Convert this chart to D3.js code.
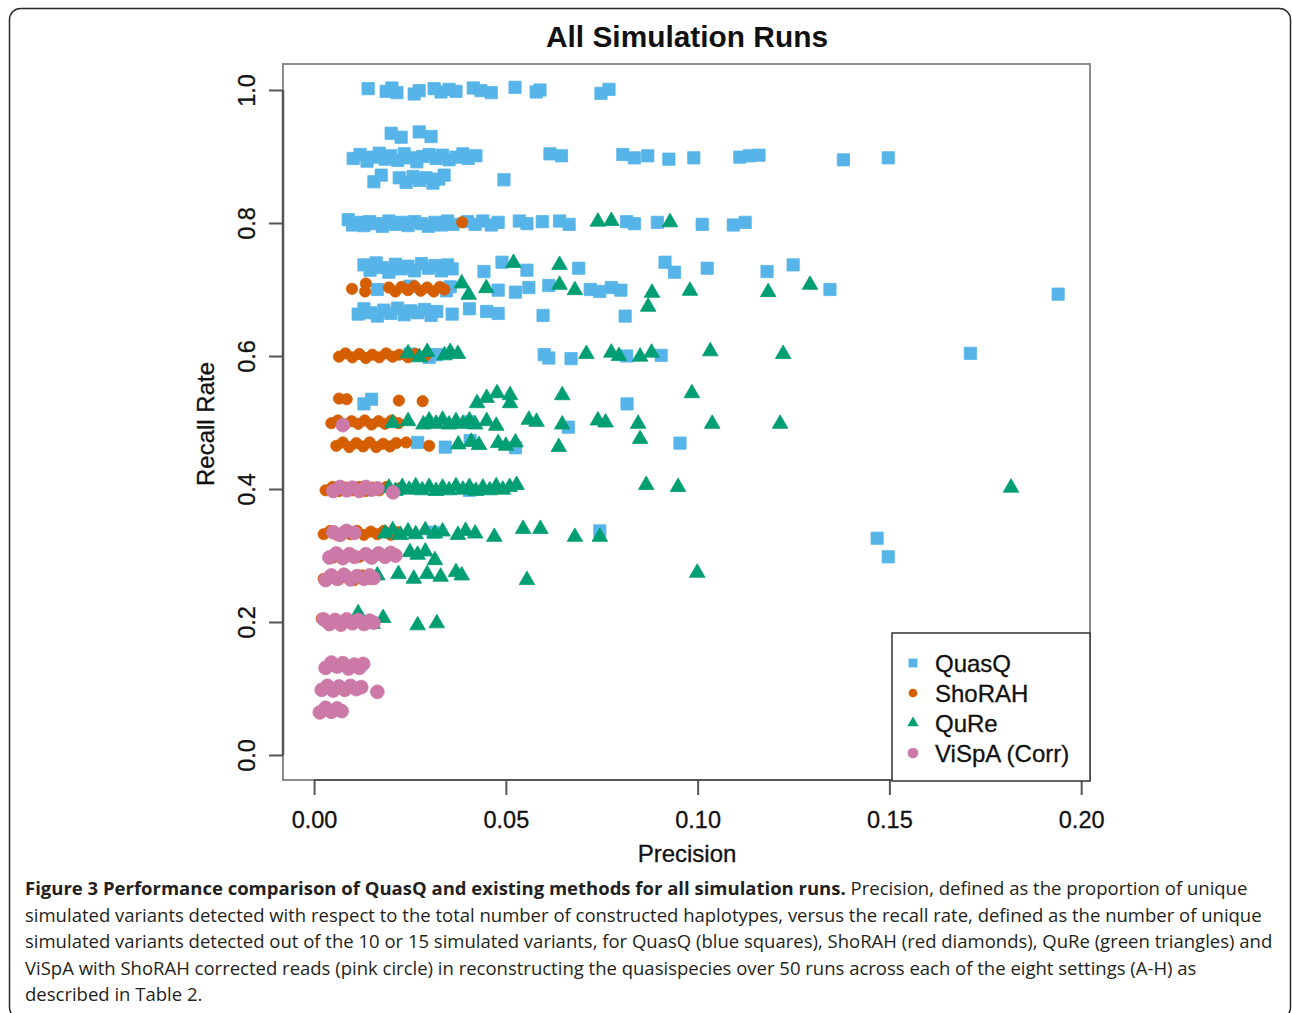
<!DOCTYPE html>
<html>
<head>
<meta charset="utf-8">
<script src="https://cdn.jsdelivr.net/npm/d3@7"></script>
<style>
  body { margin: 0; background: #fff; }
  svg { display: block; }
</style>
</head>
<body>
<script>
// All Simulation Runs: precision vs recall for four quasispecies methods
// values, one [precision, recall] pair per point

var xTicks = [0.00, 0.05, 0.10, 0.15, 0.20];
var yTicks = [0.0, 0.2, 0.4, 0.6, 0.8, 1.0];
var methods = ["QuasQ", "ShoRAH", "QuRe", "ViSpA (Corr)"];

var quasq = [
  // 1.0
  [0.0141,1.002],[0.0188,0.998],[0.0203,1.003],[0.0216,0.996],[0.0261,0.994],[0.0274,0.999],[0.0313,1.002],[0.0331,0.997],
  [0.0352,1.001],[0.0370,0.998],[0.0415,1.003],[0.0435,0.999],[0.0462,0.996],[0.0524,1.004],[0.0579,0.997],[0.0589,1.000],
  [0.0748,0.995],[0.0769,1.001],
  // 0.933
  [0.0201,0.935],[0.0227,0.929],[0.0274,0.937],[0.0305,0.930],
  // 0.9
  [0.0102,0.897],[0.0120,0.903],[0.0138,0.893],[0.0152,0.899],[0.0170,0.905],[0.0185,0.896],[0.0200,0.901],[0.0218,0.894],
  [0.0235,0.904],[0.0250,0.898],[0.0268,0.892],[0.0283,0.900],[0.0300,0.903],[0.0318,0.897],[0.0335,0.902],[0.0352,0.895],
  [0.0370,0.899],[0.0388,0.904],[0.0402,0.897],[0.0422,0.901],[0.0615,0.904],[0.0645,0.901],[0.0805,0.903],[0.0835,0.898],
  [0.0870,0.901],[0.0925,0.896],[0.0990,0.898],[0.1110,0.899],[0.1135,0.901],[0.1160,0.902],[0.1380,0.895],[0.1497,0.898],
  // 0.867
  [0.0156,0.862],[0.0175,0.872],[0.0222,0.868],[0.0240,0.861],[0.0258,0.870],[0.0275,0.864],[0.0292,0.868],[0.0310,0.860],
  [0.0325,0.866],[0.0339,0.872],[0.0495,0.865],
  // 0.8
  [0.0089,0.805],[0.0100,0.797],[0.0115,0.801],[0.0130,0.796],[0.0145,0.802],[0.0162,0.799],[0.0178,0.795],[0.0195,0.803],
  [0.0212,0.798],[0.0228,0.801],[0.0245,0.796],[0.0262,0.802],[0.0280,0.799],[0.0298,0.795],[0.0315,0.801],[0.0332,0.797],
  [0.0348,0.803],[0.0362,0.798],[0.0400,0.802],[0.0420,0.798],[0.0440,0.803],[0.0462,0.797],[0.0480,0.801],[0.0535,0.803],
  [0.0555,0.799],[0.0595,0.802],[0.0640,0.803],[0.0665,0.798],[0.0815,0.802],[0.0835,0.799],[0.0895,0.801],[0.1012,0.798],
  [0.1093,0.797],[0.1124,0.801],
  // 0.733
  [0.0130,0.737],[0.0146,0.729],[0.0162,0.740],[0.0178,0.733],[0.0195,0.726],[0.0212,0.738],[0.0228,0.731],[0.0245,0.735],
  [0.0262,0.728],[0.0280,0.739],[0.0298,0.732],[0.0315,0.736],[0.0332,0.728],[0.0348,0.737],[0.0360,0.731],[0.0443,0.727],
  [0.0490,0.741],[0.0555,0.729],[0.0690,0.732],[0.0915,0.741],[0.0940,0.726],[0.1025,0.732],[0.1181,0.727],[0.1249,0.737],
  // 0.7
  [0.0165,0.700],[0.0250,0.705],[0.0345,0.698],[0.0355,0.704],[0.0480,0.699],[0.0525,0.696],[0.0560,0.703],[0.0612,0.706],
  [0.0720,0.700],[0.0745,0.697],[0.0775,0.703],[0.0800,0.699],[0.1345,0.700],[0.1940,0.693],
  // 0.667
  [0.0115,0.663],[0.0130,0.671],[0.0148,0.665],[0.0165,0.660],[0.0182,0.669],[0.0200,0.664],[0.0218,0.672],[0.0235,0.662],
  [0.0252,0.668],[0.0270,0.665],[0.0288,0.670],[0.0305,0.661],[0.0320,0.667],[0.0360,0.663],[0.0405,0.671],[0.0450,0.667],
  [0.0480,0.664],[0.0597,0.661],[0.0811,0.660],
  // 0.6
  [0.0250,0.603],[0.0300,0.598],[0.0320,0.602],[0.0600,0.602],[0.0612,0.597],[0.0670,0.596],[0.0815,0.600],[0.0905,0.601],
  [0.1711,0.604],
  // 0.533 .. 0.3
  [0.0130,0.528],[0.0150,0.535],[0.0816,0.528],
  [0.0405,0.501],[0.0663,0.493],
  [0.0270,0.470],[0.0342,0.463],[0.0407,0.473],[0.0525,0.462],[0.0954,0.469],
  [0.0405,0.398],
  [0.0310,0.335],[0.0745,0.337],[0.1468,0.326],[0.1497,0.298]
];

var shorah = [
  [0.0386,0.801],
  // 0.7
  [0.0099,0.701],[0.0133,0.697],[0.0135,0.709],[0.0195,0.703],[0.0212,0.697],[0.0228,0.704],[0.0245,0.699],[0.0262,0.705],
  [0.0278,0.698],[0.0295,0.703],[0.0312,0.697],[0.0328,0.704],[0.0340,0.700],
  // 0.6
  [0.0065,0.599],[0.0082,0.604],[0.0100,0.598],[0.0118,0.603],[0.0135,0.597],[0.0152,0.602],[0.0170,0.598],[0.0188,0.604],
  [0.0205,0.599],[0.0222,0.602],[0.0245,0.598],[0.0265,0.603],[0.0290,0.600],
  // 0.533
  [0.0065,0.536],[0.0085,0.535],[0.0221,0.533],[0.0283,0.532],
  // 0.5
  [0.0045,0.499],[0.0062,0.503],[0.0080,0.497],[0.0098,0.502],[0.0115,0.498],[0.0132,0.503],[0.0150,0.497],[0.0168,0.502],
  [0.0185,0.498],[0.0202,0.503],[0.0220,0.499],
  // 0.467
  [0.0058,0.465],[0.0075,0.470],[0.0092,0.463],[0.0110,0.469],[0.0128,0.464],[0.0145,0.470],[0.0162,0.463],[0.0180,0.468],
  [0.0198,0.464],[0.0214,0.469],[0.0240,0.470],[0.0300,0.465],
  // 0.4
  [0.0030,0.398],[0.0048,0.403],[0.0065,0.397],[0.0082,0.402],[0.0100,0.398],[0.0118,0.403],[0.0135,0.397],[0.0152,0.402],
  [0.0170,0.398],[0.0188,0.403],[0.0205,0.397],[0.0222,0.401],
  // 0.333
  [0.0025,0.332],[0.0042,0.337],[0.0060,0.331],[0.0078,0.336],[0.0095,0.332],[0.0112,0.337],[0.0130,0.331],[0.0148,0.336],
  [0.0165,0.332],[0.0182,0.337],[0.0200,0.331],[0.0218,0.335],
  // 0.3, 0.267, 0.2
  [0.0050,0.297],[0.0118,0.298],
  [0.0025,0.265],[0.0045,0.270],[0.0065,0.264],[0.0085,0.269],[0.0105,0.263],[0.0125,0.270],[0.0145,0.265],[0.0162,0.269],
  [0.0020,0.205]
];

var qure = [
  [0.0740,0.802],[0.0775,0.803],[0.0928,0.801],
  [0.0520,0.740],[0.0640,0.737],
  // 0.7
  [0.0385,0.709],[0.0403,0.692],[0.0449,0.702],[0.0640,0.707],[0.0680,0.699],[0.0881,0.695],[0.0980,0.698],[0.1184,0.696],
  [0.1293,0.707],[0.0871,0.674],
  // 0.6
  [0.0245,0.604],[0.0275,0.598],[0.0295,0.606],[0.0340,0.601],[0.0355,0.606],[0.0375,0.603],[0.0710,0.603],[0.0775,0.605],
  [0.0795,0.600],[0.0850,0.599],[0.0880,0.605],[0.1033,0.607],[0.1223,0.603],
  // 0.533
  [0.0425,0.529],[0.0450,0.537],[0.0477,0.544],[0.0511,0.541],[0.0511,0.529],[0.0647,0.541],[0.0985,0.544],
  // 0.5
  [0.0205,0.499],[0.0245,0.502],[0.0285,0.497],[0.0300,0.503],[0.0318,0.498],[0.0335,0.504],[0.0352,0.497],[0.0370,0.502],
  [0.0388,0.498],[0.0405,0.503],[0.0420,0.497],[0.0450,0.502],[0.0475,0.495],[0.0560,0.504],[0.0580,0.501],[0.0647,0.497],
  [0.0740,0.503],[0.0760,0.500],[0.0845,0.498],[0.1038,0.498],[0.1215,0.498],
  // 0.467
  [0.0376,0.467],[0.0410,0.471],[0.0430,0.466],[0.0480,0.469],[0.0500,0.465],[0.0525,0.470],[0.0638,0.463],[0.0850,0.475],
  // 0.4
  [0.0195,0.402],[0.0212,0.397],[0.0230,0.403],[0.0248,0.399],[0.0265,0.404],[0.0282,0.398],[0.0300,0.403],[0.0318,0.397],
  [0.0335,0.402],[0.0352,0.398],[0.0370,0.404],[0.0388,0.399],[0.0405,0.403],[0.0422,0.397],[0.0440,0.402],[0.0458,0.398],
  [0.0475,0.404],[0.0492,0.399],[0.0510,0.403],[0.0528,0.406],[0.0866,0.406],[0.0949,0.403],[0.1817,0.402],
  // 0.333
  [0.0185,0.333],[0.0205,0.338],[0.0225,0.331],[0.0245,0.336],[0.0265,0.332],[0.0290,0.338],[0.0315,0.333],[0.0335,0.336],
  [0.0375,0.331],[0.0395,0.337],[0.0420,0.333],[0.0470,0.328],[0.0545,0.340],[0.0590,0.340],[0.0680,0.328],[0.0745,0.328],
  // 0.3
  [0.0250,0.305],[0.0270,0.301],[0.0290,0.306],[0.0315,0.293],
  // 0.267
  [0.0165,0.270],[0.0220,0.272],[0.0260,0.265],[0.0295,0.272],[0.0330,0.268],[0.0370,0.275],[0.0385,0.270],[0.0555,0.263],
  [0.0999,0.274],
  // 0.2
  [0.0115,0.213],[0.0152,0.197],[0.0180,0.206],[0.0270,0.195],[0.0320,0.198]
];

var vispa = [
  [0.0075,0.496],
  // 0.4
  [0.0050,0.397],[0.0068,0.403],[0.0085,0.398],[0.0100,0.402],[0.0118,0.397],[0.0135,0.403],[0.0150,0.399],[0.0165,0.401],
  [0.0206,0.395],
  // 0.333
  [0.0050,0.335],[0.0068,0.331],[0.0085,0.337],[0.0105,0.334],
  // 0.3
  [0.0040,0.297],[0.0058,0.303],[0.0075,0.296],[0.0092,0.302],[0.0105,0.298],[0.0135,0.302],[0.0150,0.297],[0.0168,0.303],
  [0.0185,0.298],[0.0200,0.304],[0.0212,0.300],
  // 0.267
  [0.0030,0.263],[0.0045,0.270],[0.0060,0.265],[0.0078,0.271],[0.0095,0.264],[0.0112,0.269],[0.0130,0.265],[0.0145,0.270],
  [0.0155,0.266],
  // 0.2
  [0.0025,0.204],[0.0040,0.197],[0.0055,0.203],[0.0070,0.196],[0.0085,0.204],[0.0100,0.198],[0.0115,0.203],[0.0130,0.197],
  [0.0145,0.202],[0.0155,0.199],
  // 0.133
  [0.0030,0.131],[0.0045,0.139],[0.0060,0.133],[0.0075,0.138],[0.0090,0.130],[0.0105,0.136],[0.0118,0.131],[0.0128,0.137],
  // 0.1
  [0.0020,0.098],[0.0035,0.104],[0.0050,0.097],[0.0065,0.103],[0.0080,0.098],[0.0095,0.104],[0.0110,0.099],[0.0123,0.102],
  [0.0165,0.095],
  // 0.067
  [0.0015,0.064],[0.0030,0.071],[0.0045,0.065],[0.0060,0.070],[0.0072,0.066]
];

var captionLines = [
  "simulated variants detected with respect to the total number of constructed haplotypes, versus the recall rate, defined as the number of unique",
  "simulated variants detected out of the 10 or 15 simulated variants, for QuasQ (blue squares), ShoRAH (red diamonds), QuRe (green triangles) and",
  "ViSpA with ShoRAH corrected reads (pink circle) in reconstructing the quasispecies over 50 runs across each of the eight settings (A-H) as",
  "described in Table 2."
];

var width = 1292;
var height = 1013;
var font = "'Liberation Sans', Arial, Helvetica, sans-serif";

var svg = d3.select("body").append("svg")
            .attr("width", width)
            .attr("height", height);

svg.append("rect").attr("width", width).attr("height", height).attr("fill", "#fff");

// rounded frame round the whole figure
svg.append("rect")
    .attr("x", 9.5).attr("y", 8.5)
    .attr("width", 1281).attr("height", 1010)
    .attr("rx", 11)
    .attr("fill", "none")
    .attr("stroke", "#2a2a2a")
    .attr("stroke-width", 1.5);

// plot region, R style with 4% padding on the axes
var x = d3.scaleLinear().domain([-0.0081, 0.2023]).range([283, 1090]);
var y = d3.scaleLinear().domain([-0.0376, 1.0391]).range([780, 64]);

var series = [
  {name: methods[0], data: quasq,  color: "#56B4E9", symbol: d3.symbolSquare,   size: 150, lsize: 80},
  {name: methods[1], data: shorah, color: "#D55E00", symbol: d3.symbolCircle,   size: 100, lsize: 60},
  {name: methods[2], data: qure,   color: "#009E73", symbol: d3.symbolTriangle, size: 105, lsize: 55},
  {name: methods[3], data: vispa,  color: "#CC79A7", symbol: d3.symbolCircle,   size: 150, lsize: 90}
];

var points = svg.append("g");
series.forEach(function(s) {
  points.append("g")
    .selectAll("path")
    .data(s.data)
    .enter()
    .append("path")
      .attr("d", d3.symbol().type(s.symbol).size(s.size))
      .attr("transform", function(d) { return "translate(" + x(d[0]) + "," + y(d[1]) + ")"; })
      .attr("fill", s.color)
      .attr("stroke", s.color)
      .attr("stroke-width", 0.8);
});

// box
svg.append("rect")
    .attr("x", x.range()[0]).attr("y", y.range()[1])
    .attr("width", x.range()[1] - x.range()[0])
    .attr("height", y.range()[0] - y.range()[1])
    .attr("fill", "none")
    .attr("stroke", "#8c8c8c")
    .attr("stroke-width", 2);

// x axis
var xAxis = svg.append("g")
    .attr("transform", "translate(0," + y.range()[0] + ")")
    .call(d3.axisBottom(x).tickValues(xTicks).tickSize(15).tickPadding(16)
            .tickFormat(d3.format(".2f")));
xAxis.select(".domain").remove();
xAxis.selectAll("line").attr("stroke", "#555").attr("stroke-width", 2);
xAxis.selectAll("text").attr("font-family", font).attr("font-size", 23.5).attr("fill", "#111")
    .attr("stroke", "#111").attr("stroke-width", 0.3);
xAxis.append("line")
    .attr("x1", x(xTicks[0])).attr("x2", x(xTicks[xTicks.length - 1]))
    .attr("stroke", "#555").attr("stroke-width", 2);

// y axis, labels turned like R's las=0
var yAxis = svg.append("g")
    .attr("transform", "translate(" + x.range()[0] + ",0)")
    .call(d3.axisLeft(y).tickValues(yTicks).tickSize(14).tickFormat(d3.format(".1f")));
yAxis.select(".domain").remove();
yAxis.selectAll("line").attr("stroke", "#555").attr("stroke-width", 2);
yAxis.selectAll("text")
    .attr("x", 0).attr("y", -28).attr("dy", 0)
    .attr("transform", "rotate(-90)")
    .attr("text-anchor", "middle")
    .attr("font-family", font).attr("font-size", 23.5).attr("fill", "#111")
    .attr("stroke", "#111").attr("stroke-width", 0.3);
yAxis.append("line")
    .attr("y1", y(yTicks[0])).attr("y2", y(yTicks[yTicks.length - 1]))
    .attr("stroke", "#555").attr("stroke-width", 2.5);

// titles
svg.append("text")
    .attr("x", 687).attr("y", 47)
    .attr("text-anchor", "middle")
    .attr("font-family", font).attr("font-weight", "bold").attr("font-size", 29)
    .attr("textLength", 282).attr("lengthAdjust", "spacingAndGlyphs")
    .attr("fill", "#111")
    .text("All Simulation Runs");

svg.append("text")
    .attr("x", 687).attr("y", 862)
    .attr("text-anchor", "middle")
    .attr("font-family", font).attr("font-size", 24)
    .attr("fill", "#111").attr("stroke", "#111").attr("stroke-width", 0.3)
    .text("Precision");

svg.append("text")
    .attr("transform", "translate(214,424) rotate(-90)")
    .attr("text-anchor", "middle")
    .attr("font-family", font).attr("font-size", 24)
    .attr("fill", "#111").attr("stroke", "#111").attr("stroke-width", 0.3)
    .text("Recall Rate");

// legend, bottom right of the box
var legend = svg.append("g").attr("transform", "translate(892,633)");
legend.append("rect")
    .attr("width", 198).attr("height", 148)
    .attr("fill", "#fff")
    .attr("stroke", "#333")
    .attr("stroke-width", 1.5);

var legendRow = legend.selectAll(".row")
    .data(series)
    .enter().append("g")
      .attr("class", "row")
      .attr("transform", function(d, i) { return "translate(0," + (30 + i * 30) + ")"; });

legendRow.append("path")
    .attr("transform", "translate(21,0)")
    .attr("d", function(d) { return d3.symbol().type(d.symbol).size(d.lsize)(); })
    .attr("fill", function(d) { return d.color; });

legendRow.append("text")
    .attr("x", 43).attr("y", 9)
    .attr("font-family", font).attr("font-size", 24)
    .attr("fill", "#111").attr("stroke", "#111").attr("stroke-width", 0.3)
    .text(function(d) { return d.name; });

// caption
var cap = svg.append("g")
    .attr("font-family", "'Open Sans', 'Noto Sans', sans-serif")
    .attr("font-size", 18)
    .attr("fill", "#231f20");

var first = cap.append("text").attr("x", 25).attr("y", 895);
first.append("tspan").attr("font-weight", "bold")
    .text("Figure 3 Performance comparison of QuasQ and existing methods for all simulation runs.");
first.append("tspan").text(" Precision, defined as the proportion of unique");

cap.selectAll(".cl")
    .data(captionLines)
    .enter().append("text")
      .attr("class", "cl")
      .attr("x", 25)
      .attr("y", function(d, i) { return 921.5 + i * 26.5; })
      .text(function(d) { return d; });

// fit caption size to the measured line width of the second line
var w = cap.select(".cl").node().getComputedTextLength();
cap.attr("font-size", 18 * 1237 / w);
</script>
</body>
</html>
